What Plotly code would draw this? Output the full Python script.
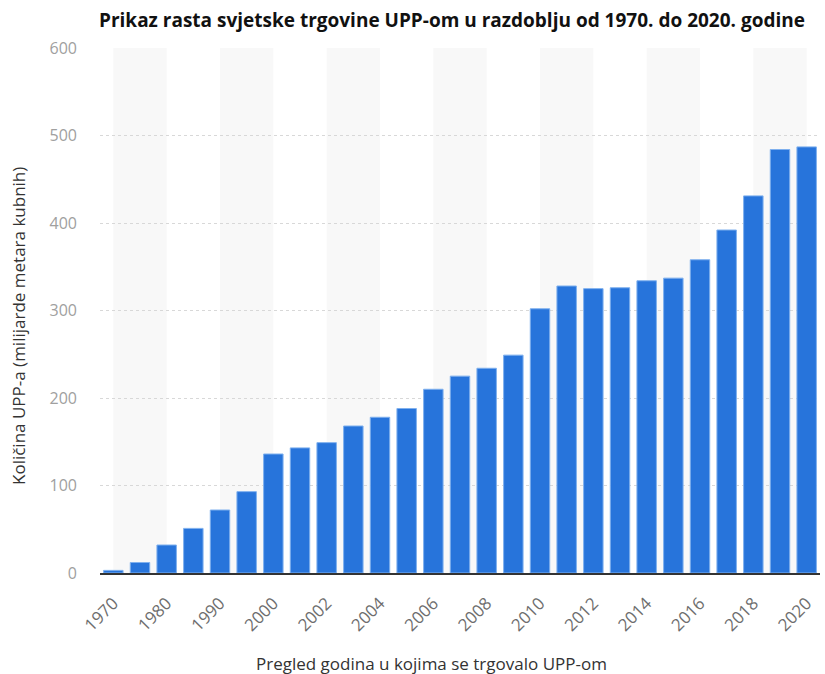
import plotly.graph_objects as go

years = ["1970", "1975", "1980", "1985", "1990", "1995"] + [str(y) for y in range(2000, 2021)]
values = [3, 12, 32, 51, 72, 93, 136, 143, 149, 168, 178, 188, 210, 225, 234, 249,
          302, 328, 325, 326, 334, 337, 358, 392, 431, 484, 487]
tick_labels = years[::2]

title_text = "Prikaz rasta svjetske trgovine UPP-om u razdoblju od 1970. do 2020. godine"
y_title = "Količina UPP-a (milijarde metara kubnih)"
x_title = "Pregled godina u kojima se trgovalo UPP-om"

fig = go.Figure()
fig.add_trace(go.Bar(
    x=years, y=values,
    marker=dict(color="#2774db", line=dict(color="#7fb0ee", width=1)),
    width=0.73,
))

shapes = []
for i in range(0, len(years), 4):
    shapes.append(dict(type="rect", xref="x", yref="paper", x0=i, x1=min(i + 2, len(years) - 0.5),
                       y0=0, y1=1, fillcolor="#f8f8f8", line=dict(width=0), layer="below"))

fig.update_layout(
    width=825, height=674,
    margin=dict(l=100, r=5, t=48, b=101),
    plot_bgcolor="white", paper_bgcolor="white",
    font=dict(family="Open Sans, sans-serif"),
    title=dict(text="<b>" + title_text + "</b>", x=452 / 825, xanchor="center", y=1 - 20 / 674, yanchor="middle",
               font=dict(size=19, color="#111")),
    showlegend=False,
    shapes=shapes,
    xaxis=dict(type="category", tickmode="array", tickvals=tick_labels, ticktext=tick_labels,
               tickangle=-45, tickfont=dict(size=17, color="#6e6e6e"), showgrid=False,
               showline=True, linecolor="#333", linewidth=1.5, ticks="", ticklabelstandoff=12,
               range=[-0.5, len(years) - 0.5]),
    yaxis=dict(range=[0, 600], dtick=100, tickfont=dict(size=16, color="#a0a0a0"),
               showgrid=True, gridcolor="#d8d8d8", griddash="dot", gridwidth=1,
               zeroline=False, ticks="", ticklabelstandoff=22),
    annotations=[
        dict(text=x_title, xref="paper", yref="paper", x=(431 - 100) / 720, y=(573 - 663) / 525,
             xanchor="center", yanchor="middle", showarrow=False,
             font=dict(size=17, color="#333")),
        dict(text=y_title, xref="paper", yref="paper", x=(18 - 100) / 720, y=(573 - 326) / 525,
             xanchor="center", yanchor="middle", showarrow=False, textangle=-90,
             font=dict(size=17, color="#333")),
    ],
)

fig.write_html("out.html", config={"displayModeBar": False},
               post_script="document.body.style.margin='0';")
